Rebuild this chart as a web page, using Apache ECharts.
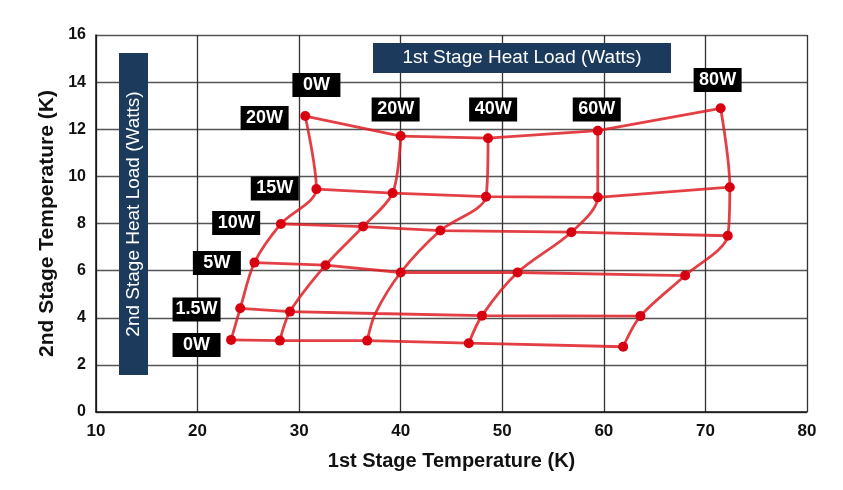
<!DOCTYPE html>
<html>
<head>
<meta charset="utf-8">
<script src="https://cdn.jsdelivr.net/npm/echarts@6/dist/echarts.min.js"></script>
<style>html,body{margin:0;padding:0;background:#fff;}#c{width:843px;height:490px;}</style>
</head>
<body>
<div id="c"></div>
<script>
// 1st stage heat load columns (Watts) and 2nd stage heat load rows (Watts)
const firstStageLoads = ['0W', '20W', '40W', '60W', '80W'];
const secondStageLoads = ['0W', '1.5W', '5W', '10W', '15W', '20W'];

// 1st stage temperature (K): rows = 2nd stage load, cols = 1st stage load
const temp1 = [
  [23.3, 28.1, 36.7, 46.7, 61.9],   // 0W
  [24.2, 29.1, 37.5, 48.0, 63.6],   // 1.5W
  [25.6, 32.6, 40.0, 51.5, 68.0],   // 5W
  [28.2, 36.3, 43.9, 56.8, 72.2],   // 10W
  [31.7, 39.2, 48.4, 59.4, 72.4],   // 15W
  [30.6, 40.0, 48.6, 59.4, 71.5]    // 20W
];
// 2nd stage temperature (K)
const temp2 = [
  [3.06, 3.03, 3.03, 2.92, 2.77],
  [4.40, 4.26, 4.18, 4.09, 4.07],
  [6.34, 6.23, 5.92, 5.92, 5.79],
  [7.98, 7.87, 7.70, 7.63, 7.48],
  [9.46, 9.29, 9.14, 9.11, 9.54],
  [12.56, 11.71, 11.62, 11.94, 12.89]
];
// grid points without a marker [row, col]
const hiddenDots = [[1, 2]];

// label anchors (x, y in data units)
const colLabelX = [31.7, 39.5, 49.1, 59.3, 71.2];
const colLabelY = [13.88, 12.84, 12.84, 12.84, 14.09];
const rowLabelX = [19.9, 19.9, 21.9, 23.8, 27.6, 26.6];
const rowLabelY = [2.84, 4.35, 6.32, 8.02, 9.49, 12.48];

const xTicks = [10, 20, 30, 40, 50, 60, 70, 80];
const yTicks = [0, 2, 4, 6, 8, 10, 12, 14, 16];

const RED = 'rgba(222,30,38,0.85)';
const DOT = '#d80010';
const series = [];

// rows (constant 2nd stage load)
temp1.forEach((row, r) => {
  series.push({
    type: 'line', symbol: 'none', silent: true, z: 3,
    lineStyle: { color: RED, width: 2.8 },
    data: row.map((x, c) => [x, temp2[r][c]])
  });
});
// columns (constant 1st stage load)
firstStageLoads.forEach((_, c) => {
  series.push({
    type: 'line', symbol: 'none', silent: true, z: 3, smooth: 0.3,
    lineStyle: { color: RED, width: 2.8 },
    data: temp1.map((row, r) => [row[c], temp2[r][c]])
  });
});
// dots
const dots = [];
temp1.forEach((row, r) => row.forEach((x, c) => {
  if (!hiddenDots.some(h => h[0] === r && h[1] === c)) dots.push([x, temp2[r][c]]);
}));
series.push({
  type: 'scatter', symbol: 'circle', symbolSize: 10, z: 4,
  itemStyle: { color: DOT, opacity: 1 }, data: dots
});
// labels
const labelStyle = {
  show: true, position: 'inside', color: '#fff', fontFamily: 'Liberation Sans, Arial, sans-serif',
  fontWeight: 'bold', fontSize: 18, backgroundColor: '#000', padding: [3, 3], lineHeight: 18,
  width: 42, align: 'center', verticalAlign: 'middle', opacity: 1,
  formatter: p => p.name
};
function labelData(names, xs, ys) {
  return names.map((t, i) => ({ name: t, value: [xs[i], ys[i]] }));
}
series.push({
  type: 'scatter', symbolSize: 1, itemStyle: { color: 'rgba(0,0,0,0)', opacity: 1 }, z: 6, label: labelStyle,
  silent: true, data: labelData(firstStageLoads, colLabelX, colLabelY)
});
series.push({
  type: 'scatter', symbolSize: 1, itemStyle: { color: 'rgba(0,0,0,0)', opacity: 1 }, z: 6, label: labelStyle,
  silent: true, data: labelData(secondStageLoads, rowLabelX, rowLabelY)
});

const chart = echarts.init(document.getElementById('c'), null, { renderer: 'canvas' });
chart.setOption({
  animation: false,
  backgroundColor: '#fff',
  grid: { left: 96, right: 36, top: 35, bottom: 78, containLabel: false },
  xAxis: {
    type: 'value', min: xTicks[0], max: xTicks[xTicks.length - 1], interval: 10,
    name: '1st Stage Temperature (K)', nameLocation: 'middle', nameGap: 39,
    nameTextStyle: { fontFamily: 'Liberation Sans, Arial', fontWeight: 'bold', fontSize: 20, color: '#111' },
    axisLine: { lineStyle: { color: '#111', width: 1.5 } },
    axisTick: { show: false },
    axisLabel: { margin: 11, fontFamily: 'Liberation Sans, Arial', fontWeight: 'bold', fontSize: 17, color: '#111' },
    splitLine: { lineStyle: { color: '#333', width: 1.3 } }
  },
  yAxis: {
    type: 'value', min: yTicks[0], max: yTicks[yTicks.length - 1], interval: 2,
    name: '2nd Stage Temperature (K)', nameLocation: 'middle', nameGap: 36,
    nameTextStyle: { fontFamily: 'Liberation Sans, Arial', fontWeight: 'bold', fontSize: 21, color: '#111' },
    axisLine: { show: true, lineStyle: { color: '#111', width: 1.5 } },
    axisTick: { show: false },
    axisLabel: { margin: 10, fontFamily: 'Liberation Sans, Arial', fontWeight: 'bold', fontSize: 16, color: '#111' },
    splitLine: { lineStyle: { color: '#555', width: 1.3 } }
  },
  graphic: [
    {
      type: 'rect', shape: { x: 373, y: 43, width: 298, height: 30 }, z: 10,
      style: { fill: '#1b3a5c' }
    },
    {
      type: 'text', x: 522, y: 58, z: 11,
      style: { text: '1st Stage Heat Load (Watts)', fill: '#fff', font: '19px "Liberation Sans", Arial',
        textAlign: 'center', textVerticalAlign: 'middle' }
    },
    {
      type: 'rect', shape: { x: 119, y: 53, width: 29, height: 322 }, z: 10,
      style: { fill: '#1b3a5c' }
    },
    {
      type: 'text', x: 134, y: 214, rotation: Math.PI / 2, z: 11,
      style: { text: '2nd Stage Heat Load (Watts)', fill: '#fff', font: '19px "Liberation Sans", Arial',
        textAlign: 'center', textVerticalAlign: 'middle' }
    }
  ],
  series: series
});
</script>
</body>
</html>
